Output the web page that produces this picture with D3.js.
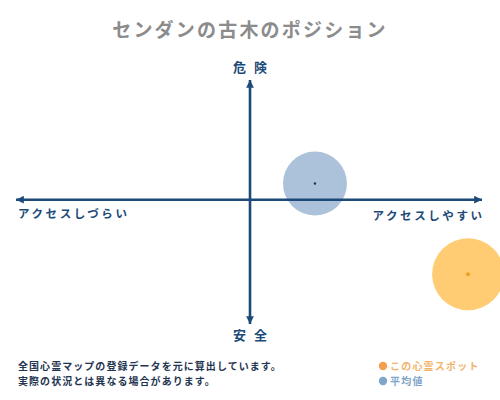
<!DOCTYPE html>
<html><head><meta charset="utf-8">
<script src="https://cdn.jsdelivr.net/npm/d3@7"></script>
<style>body{margin:0;background:#fff}svg{display:block}</style>
</head><body>
<svg id="c" width="500" height="400"></svg>
<script>
const title = "センダンの古木のポジション";
const axisLabels = { top: "危険", bottom: "安全", left: "アクセスしづらい", right: "アクセスしやすい" };
const seriesNames = ["平均値", "この心霊スポット"];
const accessValues = [0.28, 0.94];   // x: -1 (hard) .. 1 (easy)
const dangerValues = [0.135, -0.60]; // y: -1 (safe) .. 1 (danger)
const footnotes = ["全国心霊マップの登録データを元に算出しています。", "実際の状況とは異なる場合があります。"];
const legendLabels = ["この心霊スポット", "平均値"];

const svg = d3.select("#c");
const font = "'Noto Sans CJK JP','Noto Sans',sans-serif";
const navy = "#1c4a78";
const x = d3.scaleLinear().domain([-1, 0, 1]).range([16, 250, 482]);
const y = d3.scaleLinear().domain([-1, 0, 1]).range([324, 199.7, 80]);

svg.append("text").attr("x", 250).attr("y", 37).attr("text-anchor", "middle")
  .attr("font-family", font).attr("font-size", 19).attr("font-weight", "bold")
  .attr("letter-spacing", 2.2).attr("fill", "#8c8c8c").text(title);

const defs = svg.append("defs");
defs.append("marker").attr("id", "ah").attr("viewBox", "0 0 10 10")
  .attr("refX", 10).attr("refY", 5).attr("markerWidth", 3.0).attr("markerHeight", 3.0)
  .attr("orient", "auto-start-reverse").attr("markerUnits", "strokeWidth")
  .append("path").attr("d", "M0,0 L10,5 L0,10 Z").attr("fill", navy);

// bubbles
const fills = ["rgba(140,170,205,0.72)", "rgba(255,190,80,0.8)"];
const dots = ["#1c3550", "#f0a020"];
const radii = [32, 36];
const pts = accessValues.map((a, i) => ({ a, d: dangerValues[i], i }));
svg.selectAll("circle.b").data(pts).enter().append("circle").attr("class", "b")
  .attr("cx", p => x(p.a)).attr("cy", p => y(p.d)).attr("r", p => radii[p.i])
  .attr("fill", p => fills[p.i]);

// axes
svg.append("line").attr("x1", x(-1)).attr("x2", x(1)).attr("y1", y(0)).attr("y2", y(0))
  .attr("stroke", navy).attr("stroke-width", 2.6)
  .attr("marker-start", "url(#ah)").attr("marker-end", "url(#ah)");
svg.append("line").attr("x1", x(0)).attr("x2", x(0)).attr("y1", y(-1)).attr("y2", y(1))
  .attr("stroke", navy).attr("stroke-width", 2.6)
  .attr("marker-start", "url(#ah)").attr("marker-end", "url(#ah)");

svg.selectAll("circle.d").data(pts).enter().append("circle").attr("class", "d")
  .attr("cx", p => x(p.a)).attr("cy", p => y(p.d)).attr("r", p => p.i === 0 ? 1.2 : 2)
  .attr("fill", p => dots[p.i]);

const lab = (tx, ty, t, anchor, size, ls) => svg.append("text").attr("x", tx).attr("y", ty)
  .attr("text-anchor", anchor).attr("font-family", font).attr("font-size", size)
  .attr("font-weight", "bold").attr("letter-spacing", ls).attr("fill", navy).text(t);
lab(250 + 4, 72, axisLabels.top, "middle", 13, 8);
lab(250 + 4, 340, axisLabels.bottom, "middle", 13, 8);
lab(18, 218, axisLabels.left, "start", 11.5, 2.6);
lab(482 + 2.6, 220, axisLabels.right, "end", 11.5, 2.6);

footnotes.forEach((t, i) => svg.append("text").attr("x", 18).attr("y", 370 + i * 15)
  .attr("font-family", font).attr("font-size", 10).attr("font-weight", "bold")
  .attr("letter-spacing", 1.05).attr("fill", "#1f3550").text(t));

const legColors = ["#f5a04a", "#7fa5c8"];
const legText = ["#f2b46c", "#7fa5c8"];
legendLabels.forEach((t, i) => {
  svg.append("circle").attr("cx", 383).attr("cy", 366 + i * 15).attr("r", 4.2).attr("fill", legColors[i]);
  svg.append("text").attr("x", 390).attr("y", 370 + i * 15).attr("font-family", font)
    .attr("font-size", 10).attr("font-weight", "bold").attr("letter-spacing", 1.2)
    .attr("fill", legText[i]).text(t);
});
</script>
</body></html>
